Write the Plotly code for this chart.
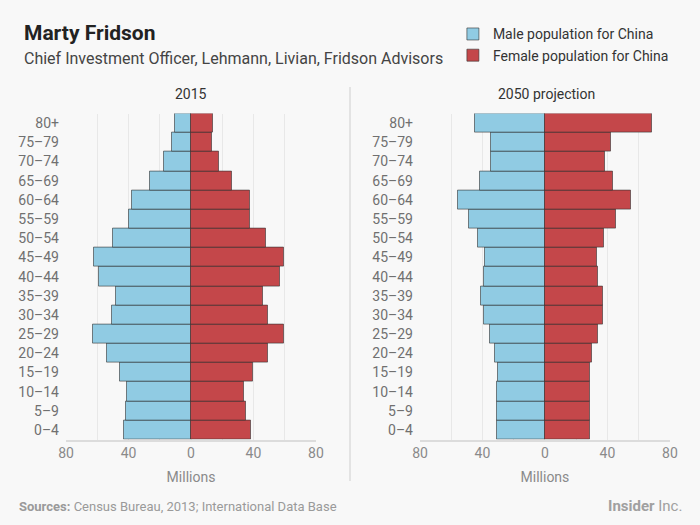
import plotly.graph_objects as go

ages = ["0–4", "5–9", "10–14", "15–19", "20–24", "25–29", "30–34", "35–39",
        "40–44", "45–49", "50–54", "55–59", "60–64", "65–69", "70–74", "75–79", "80+"]

male_2015 = [42.7, 41.4, 41.0, 45.7, 53.5, 62.5, 50.8, 47.8, 58.7, 61.9, 49.7, 39.9, 38.0, 26.0, 17.1, 12.2, 10.2]
female_2015 = [38.2, 35.2, 33.9, 39.9, 49.1, 59.3, 49.1, 46.3, 56.7, 59.3, 47.8, 37.8, 37.8, 26.2, 17.9, 13.4, 14.3]
male_2050 = [30.7, 30.7, 30.7, 30.1, 32.2, 35.0, 38.8, 41.2, 38.8, 38.4, 42.9, 48.6, 55.9, 41.8, 34.8, 34.8, 45.0]
female_2050 = [29.0, 29.0, 29.0, 29.0, 30.1, 33.9, 37.3, 37.3, 33.9, 33.1, 38.0, 45.4, 55.0, 43.7, 38.4, 42.0, 68.7]

tick_vals = [-80, -60, -40, -20, 0, 20, 40, 60, 80]
tick_text = ["80", "", "40", "", "0", "", "40", "", "80"]

BLUE = "#90cbe3"
RED = "#c4474a"
BG = "#f8f8f8"
FONT = "Roboto"

fig = go.Figure()

line = dict(color="rgba(50,50,50,0.6)", width=1)
fig.add_trace(go.Bar(y=ages, x=[-v for v in male_2015], orientation="h", name="Male population for China",
                     marker=dict(color=BLUE, line=line), xaxis="x", yaxis="y"))
fig.add_trace(go.Bar(y=ages, x=female_2015, orientation="h", name="Female population for China",
                     marker=dict(color=RED, line=line), xaxis="x", yaxis="y"))
fig.add_trace(go.Bar(y=ages, x=[-v for v in male_2050], orientation="h", showlegend=False,
                     marker=dict(color=BLUE, line=line), xaxis="x2", yaxis="y2"))
fig.add_trace(go.Bar(y=ages, x=female_2050, orientation="h", showlegend=False,
                     marker=dict(color=RED, line=line), xaxis="x2", yaxis="y2"))

ydom = [0.1627, 0.7836]
xaxis_common = dict(range=[-80, 80], tickvals=tick_vals, ticktext=tick_text, showgrid=True,
                    gridcolor="#e8e8e8", gridwidth=1, zeroline=False, showline=True,
                    linecolor="#dcdcdc", linewidth=2, ticks="", automargin=False,
                    tickfont=dict(family=FONT, size=14, color="#8a8a8a"),
                    title=dict(text="Millions", font=dict(family=FONT, size=14, color="#8a8a8a"), standoff=12),
                    fixedrange=True)
yaxis_common = dict(domain=ydom, showgrid=False, zeroline=False, showline=False, ticks="",
                    tickfont=dict(family=FONT, size=14, color="#707070"), categoryorder="array",
                    categoryarray=ages, ticklabelstandoff=6, automargin=False, fixedrange=True)

fig.update_layout(
    width=700, height=525,
    paper_bgcolor=BG, plot_bgcolor=BG,
    margin=dict(l=0, r=0, t=0, b=0, autoexpand=False),
    barmode="relative", bargap=0,
    showlegend=True,
    legend=dict(x=0.647, y=0.965, xanchor="left", yanchor="top", bgcolor="rgba(0,0,0,0)",
                font=dict(family=FONT, size=14, color="#333333"), tracegroupgap=4,
                traceorder="normal"),
    xaxis=dict(domain=[0.0943, 0.4514], anchor="y", **xaxis_common),
    yaxis=dict(anchor="x", **yaxis_common),
    xaxis2=dict(domain=[0.6, 0.957], anchor="y2", **xaxis_common),
    yaxis2=dict(anchor="x2", **yaxis_common),
    font=dict(family=FONT),
)

fig.add_annotation(text="<b>Marty Fridson</b>", x=22 / 700, y=1 - 33 / 525, xref="paper", yref="paper",
                   xanchor="left", yanchor="middle", showarrow=False,
                   font=dict(family=FONT, size=21, color="#222222"))
fig.add_annotation(text="Chief Investment Officer, Lehmann, Livian, Fridson Advisors", x=22 / 700, y=1 - 58 / 525,
                   xref="paper", yref="paper", xanchor="left", yanchor="middle", showarrow=False,
                   font=dict(family=FONT, size=16, color="#444444"))
fig.add_annotation(text="2015", x=191 / 700, y=1 - 94 / 525, xref="paper", yref="paper",
                   xanchor="center", yanchor="middle", showarrow=False,
                   font=dict(family=FONT, size=14, color="#333333"))
fig.add_annotation(text="2050 projection", x=546 / 700, y=1 - 94 / 525, xref="paper", yref="paper",
                   xanchor="center", yanchor="middle", showarrow=False,
                   font=dict(family=FONT, size=14, color="#333333"))
fig.add_annotation(text="<b>Sources:</b> Census Bureau, 2013; International Data Base", x=17 / 700, y=1 - 506 / 525,
                   xref="paper", yref="paper", xanchor="left", yanchor="middle", showarrow=False,
                   font=dict(family=FONT, size=13, color="#9a9a9a"))
fig.add_annotation(text="<b>Insider</b> Inc.", x=684 / 700, y=1 - 506 / 525,
                   xref="paper", yref="paper", xanchor="right", yanchor="middle", showarrow=False,
                   font=dict(family=FONT, size=15, color="#a0a0a0"))

fig.add_shape(type="line", xref="paper", yref="paper", x0=350 / 700, x1=350 / 700,
              y0=1 - 87 / 525, y1=1 - 481 / 525, line=dict(color="#dddddd", width=1.5))

fig.write_html("out.html", config={"displayModeBar": False},
               post_script="document.body.style.margin='0';document.body.style.background='#f8f8f8';")
